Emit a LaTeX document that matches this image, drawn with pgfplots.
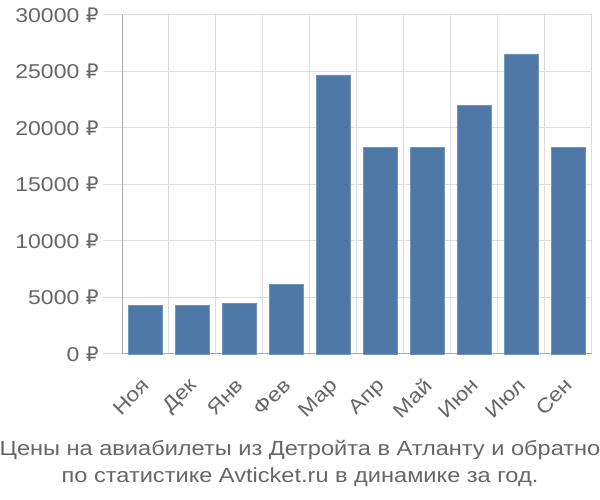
\documentclass[border=0pt]{standalone}
\usepackage{pgfplots}
\pgfplotsset{compat=1.18}
\usepackage{fontspec}
\setmainfont{Liberation Sans}[FakeStretch=1.15]
\newfontfamily\djv{DejaVu Sans}[FakeStretch=1.0]
\newcommand{\rub}{{\djv ₽}}
\definecolor{barblue}{HTML}{4E79A7}
\definecolor{txtgray}{HTML}{666666}
\definecolor{gridgray}{HTML}{DDDDDD}
\definecolor{axgray}{HTML}{AAAAAA}
\begin{document}
\begin{tikzpicture}
\begin{axis}[
  at={(122bp,146bp)}, anchor=south west,
  scale only axis, width=470bp, height=339bp,
  xmin=-0.5, xmax=9.5, ymin=0, ymax=30000,
  axis lines=left,
  axis line style={axgray, line width=1bp, -},
  xtick={0,...,9},
  xticklabels={Ноя,Дек,Янв,Фев,Мар,Апр,Май,Июн,Июл,Сен},
  minor xtick={-0.5,0.5,...,9.5},
  xminorgrids,
  ymajorgrids,
  grid style={gridgray, line width=1bp},
  minor grid style={gridgray, line width=1bp},
  ytick={0,5000,...,30000},
  yticklabels={0 \rub,5000 \rub,10000 \rub,15000 \rub,20000 \rub,25000 \rub,30000 \rub},
  tick align=outside,
  major tick length=19bp,
  minor tick length=11bp,
  x tick style={draw=none},
  minor x tick style={gridgray, line width=1bp},
  y tick style={gridgray, line width=1bp},
  tick label style={font=\fontsize{20bp}{23bp}\selectfont, text=txtgray},
  yticklabel style={xshift=-1bp},
  xticklabel style={rotate=45, anchor=north east, xshift=-2.5bp, yshift=4bp},
  scaled y ticks=false,
  clip=false,
]
\addplot[ybar, bar width=34bp, fill=barblue, draw=barblue!80!white] coordinates {
  (0,4330) (1,4330) (2,4500) (3,6180) (4,24710)
  (5,18270) (6,18270) (7,21980) (8,26570) (9,18270)
};
\end{axis}
\node[text=txtgray, font=\fontsize{20.5bp}{27bp}\selectfont, align=center] at (300bp,37bp)
  {Цены на авиабилеты из Детройта в Атланту и обратно\\по статистике Avticket.ru в динамике за год.};
\pgfresetboundingbox
\path[use as bounding box] (0,0) rectangle (600bp,500bp);
\end{tikzpicture}
\end{document}
